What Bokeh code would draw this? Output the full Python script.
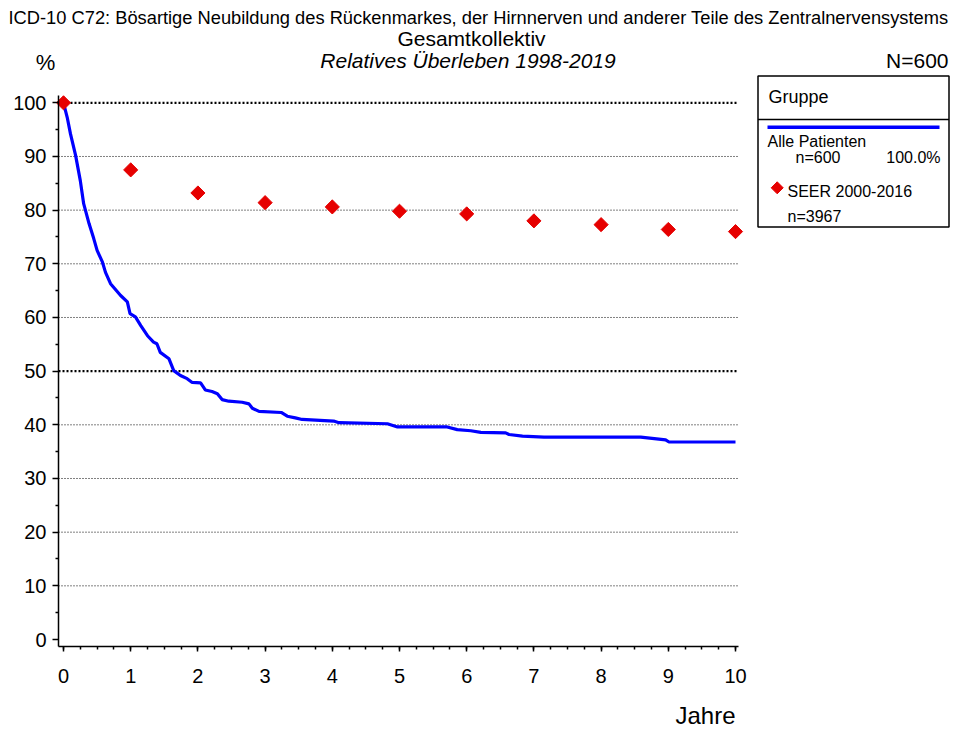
import math
from bokeh.plotting import figure
from bokeh.models import Range1d, FixedTicker, Label
from bokeh.embed import file_html
from bokeh.resources import INLINE

# ---------------- data ----------------
years = [0, 1, 2, 3, 4, 5, 6, 7, 8, 9, 10]
seer_values = [100, 87.5, 83.2, 81.4, 80.6, 79.8, 79.3, 78.0, 77.3, 76.4, 76.0]

curve_t = [0, 0.055, 0.104, 0.18, 0.25, 0.30, 0.38, 0.45, 0.50, 0.58, 0.625, 0.70,
           0.85, 0.95, 0.99, 1.07, 1.15, 1.25, 1.34, 1.39, 1.44, 1.57, 1.64, 1.74,
           1.84, 1.915, 2.04, 2.11, 2.21, 2.29, 2.36, 2.46, 2.66, 2.76, 2.81, 2.91,
           3.24, 3.33, 3.45, 3.55, 4.02, 4.10, 4.82, 4.97, 5.71, 5.86, 6.06, 6.21,
           6.58, 6.63, 6.83, 7.15, 8.59, 8.96, 9.01, 10.0]
curve_v = [100, 97.3, 94.2, 90.2, 85.5, 81.2, 77.5, 74.7, 72.5, 70.3, 68.4, 66.3,
           64.1, 62.9, 60.7, 60.1, 58.5, 56.6, 55.4, 55.1, 53.5, 52.3, 50.1, 49.2,
           48.6, 47.9, 47.8, 46.5, 46.2, 45.8, 44.7, 44.4, 44.2, 43.9, 43.1, 42.5,
           42.3, 41.6, 41.3, 41.0, 40.7, 40.4, 40.2, 39.6, 39.6, 39.1, 38.9, 38.6,
           38.5, 38.2, 37.9, 37.7, 37.7, 37.2, 36.8, 36.8]

x_ticks = list(range(0, 11))
x_minor = [i * 0.25 for i in range(41)]
y_ticks = list(range(0, 101, 10))
y_minor = list(range(5, 100, 10))
grid_thin = [10, 20, 30, 40, 60, 70, 80, 90]
grid_bold = [50, 100]

title1 = "ICD-10 C72: Bösartige Neubildung des Rückenmarkes, der Hirnnerven und anderer Teile des Zentralnervensystems"
title2 = "Gesamtkollektiv"
title3 = "Relatives Überleben 1998-2019"
n_total = "N=600"
y_unit = "%"
x_title = "Jahre"
legend_title = "Gruppe"
group_name = "Alle Patienten"
group_n = "n=600"
group_pct = "100.0%"
ref_name = "SEER 2000-2016"
ref_n = "n=3967"

FONT = "Liberation Sans"
RED = "#E60000"
BLUE = "#0000FF"

W, H = 966, 729

# pixel geometry helpers (page pixels -> data units)
X0, XPX = 63.0, 67.2      # page x of year 0, px per year
Y0, YPX = 639.0, 5.367    # page y of 0 %, px per %
AX_X, AX_Y = 58.0, 646.0  # page position of y-axis line / x-axis line

def dx(X):
    return (X - X0) / XPX

def dy(Y):
    return (Y0 - Y) / YPX

p = figure(width=W, height=H, output_backend="svg", toolbar_location=None,
           x_range=Range1d(dx(0), dx(W)), y_range=Range1d(dy(H), dy(0)),
           min_border_left=0, min_border_right=0, min_border_top=0, min_border_bottom=0)
p.outline_line_color = None
p.xgrid.visible = False
p.ygrid.visible = False
p.background_fill_color = "white"
p.border_fill_color = "white"

xa = p.xaxis[0]
xa.ticker = FixedTicker(ticks=x_ticks, minor_ticks=x_minor)
xa.bounds = (dx(AX_X), dx(738))
xa.fixed_location = dy(AX_Y)
ya = p.yaxis[0]
ya.ticker = FixedTicker(ticks=y_ticks, minor_ticks=y_minor)
ya.bounds = (dy(AX_Y), dy(95))
ya.fixed_location = dx(AX_X)
for ax, out, so in ((xa, 5, 17), (ya, 6, 6)):
    ax.axis_line_color = "black"
    ax.axis_line_width = 1.5
    ax.major_tick_line_color = "black"
    ax.major_tick_line_width = 1.5
    ax.minor_tick_line_color = "black"
    ax.minor_tick_line_width = 1.5
    ax.major_tick_in = 0
    ax.major_tick_out = out
    ax.minor_tick_in = 0
    ax.minor_tick_out = 3
    ax.major_label_text_font = FONT
    ax.major_label_text_font_size = "20px"
    ax.major_label_text_color = "black"
    ax.major_label_standoff = so

# gridlines
xg0, xg1 = dx(AX_X), dx(737)
p.segment(x0=[xg0] * len(grid_thin), x1=[xg1] * len(grid_thin), y0=grid_thin, y1=grid_thin,
          line_color="black", line_width=1, line_dash="1 2")
p.segment(x0=[xg0] * len(grid_bold), x1=[xg1] * len(grid_bold), y0=grid_bold, y1=grid_bold,
          line_color="black", line_width=2.2, line_dash="2 2")

# survival curve & SEER
p.line(curve_t, curve_v, line_color=BLUE, line_width=3.2)
p.scatter(years, seer_values, marker="square", size=10, angle=math.pi / 4,
          fill_color=RED, line_color=RED)

# legend box
LB_L, LB_R, LB_T, LB_B = 757.5, 948.5, 75.5, 226.5
p.quad(left=[dx(LB_L)], right=[dx(LB_R)], top=[dy(LB_T)], bottom=[dy(LB_B)],
       fill_color="white", line_color="black", line_width=1.5)
p.segment(x0=[dx(LB_L)], x1=[dx(LB_R)], y0=[dy(119)], y1=[dy(119)],
          line_color="black", line_width=1.5)
p.segment(x0=[dx(767)], x1=[dx(939)], y0=[dy(126.7)], y1=[dy(126.7)],
          line_color=BLUE, line_width=3.5)
p.scatter([dx(776.7)], [dy(187.3)], marker="square", size=8.5, angle=math.pi / 4,
          fill_color=RED, line_color=RED)

def lab(text, X, Y, size, align="left", style="normal"):
    p.add_layout(Label(x=X, y=H - Y, x_units="screen", y_units="screen",
                       text=text, text_font=FONT, text_font_size=f"{size}px",
                       text_align=align, text_baseline="alphabetic",
                       text_font_style=style, text_color="black"))

lab(title1, 478, 17, 18.3, "center")
lab(title2, 471, 38, 21, "center")
lab(title3, 467.5, 59.5, 21, "center", "italic")
lab(y_unit, 45, 62, 22, "center")
lab(n_total, 948, 59.5, 21, "right")
lab(legend_title, 768, 96, 18)
lab(group_name, 767, 141, 16)
lab(group_n, 795, 156.5, 16)
lab(group_pct, 940, 156.5, 16, "right")
lab(ref_name, 787, 191, 16)
lab(ref_n, 787, 216, 16)
lab(x_title, 735, 715, 24, "right")

open("out.html", "w").write(file_html(p, INLINE))
